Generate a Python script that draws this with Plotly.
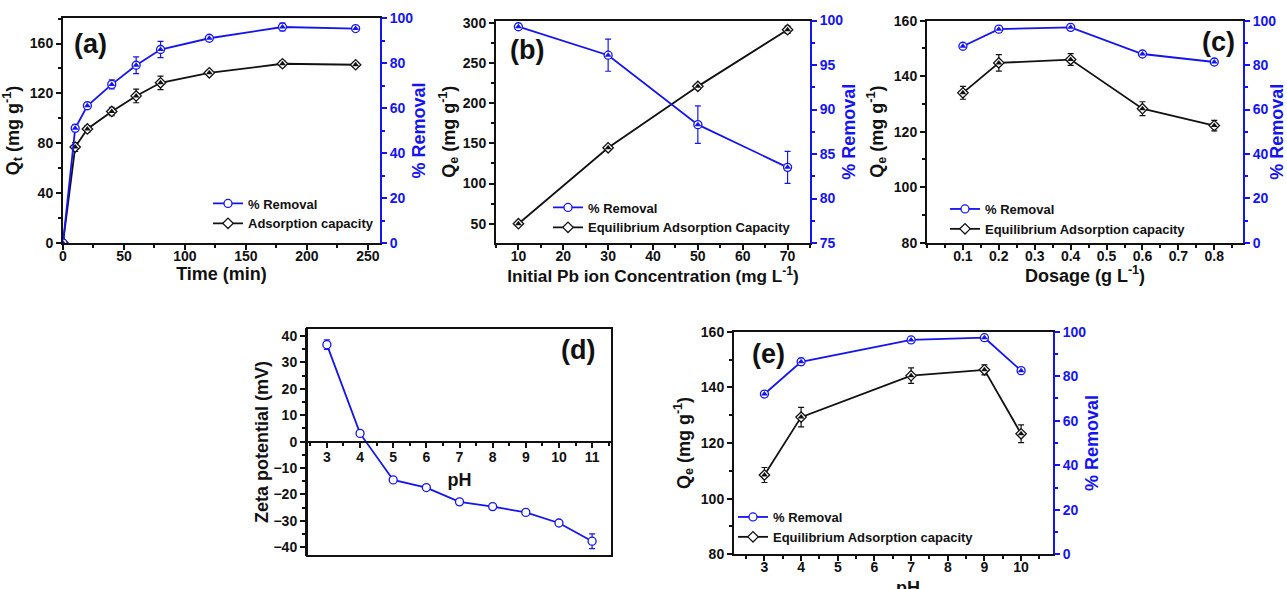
import plotly.graph_objects as go

W, H = 1287, 589
FONT = "Liberation Sans"
BLUE = "#1414f0"
BLACK = "#111111"

# ---------------- data ----------------
# (a) contact time
a_time = [0, 10, 20, 40, 60, 80, 120, 180, 240]
a_qt = [0, 77, 91.5, 105.5, 118, 128.5, 136.5, 143.8, 143]
a_qt_err = [0, 3.6, 2.5, 3.4, 5.5, 5.4, 2.0, 2.4, 2.0]
a_rem = [0, 51, 61, 70.5, 79, 86, 91, 96, 95.3]
a_rem_err = [0, 1.5, 1.2, 2.0, 3.7, 3.6, 1.0, 1.7, 1.3]

# (b) initial concentration
b_conc = [10, 30, 50, 70]
b_qe = [50, 144.5, 221, 291.5]
b_qe_err = [1, 2.5, 3.5, 4.5]
b_rem = [99.3, 96.1, 88.3, 83.5]
b_rem_err = [0, 1.8, 2.1, 1.8]

# (c) dosage
c_dose = [0.1, 0.2, 0.4, 0.6, 0.8]
c_qe = [134, 144.8, 146, 128.3, 122.2]
c_qe_err = [2.3, 3.0, 2.1, 2.5, 1.9]
c_rem = [88.5, 96.2, 97, 85, 81.4]
c_rem_err = [1.0, 1.2, 0.8, 1.0, 0.8]

# (d) zeta potential
d_ph = [3, 4, 5, 6, 7, 8, 9, 10, 11]
d_zeta = [36.7, 3.1, -14.5, -17.4, -22.8, -24.6, -26.8, -30.8, -37.7]
d_zeta_err = [1.8, 0.6, 0.6, 0.8, 0.6, 0.6, 0.6, 0.8, 2.8]

# (e) pH
e_ph = [3, 4, 7, 9, 10]
e_qe = [108.5, 129.3, 144.2, 146.3, 123.3]
e_qe_err = [2.7, 3.5, 2.8, 1.8, 3.2]
e_rem = [72, 86.5, 96.3, 97.3, 82.5]
e_rem_err = [1.2, 1.5, 1.3, 1.3, 1.3]

# ---------------- helpers ----------------
def px_x(x0, x1):
    return [x0 / W, x1 / W]

def px_y(y_top, y_bot):
    return [1 - y_bot / H, 1 - y_top / H]

tickfont = dict(family=FONT, size=14, color=BLACK, weight="bold")
tickfont_b = dict(family=FONT, size=14, color=BLUE, weight="bold")

def tfont(size=18, color=BLACK):
    return dict(family=FONT, size=size, color=color, weight="bold")

def xax(domain, rng, dtick, minor, title, anchor, tickvals=None, mirror=True,
        tsize=18, standoff=6, lab_off=-6, **kw):
    d = dict(domain=domain, range=rng, showline=True, linewidth=2, linecolor=BLACK,
             mirror=mirror, ticks="outside", ticklen=5, tickwidth=1.5, tickcolor=BLACK,
             minor=dict(ticks="outside", ticklen=3, tickwidth=1.5, dtick=minor, tickcolor=BLACK),
             dtick=dtick, tick0=0, showgrid=False, zeroline=False, tickfont=tickfont,
             ticklabelstandoff=lab_off,
             title=dict(text=title, font=tfont(tsize), standoff=standoff), anchor=anchor,
             automargin=False)
    if tickvals is not None:
        d["tickmode"] = "array"
        d["tickvals"] = tickvals
    d.update(kw)
    return d

def yax(domain, rng, dtick, minor, title, anchor, color=BLACK, side="left",
        overlaying=None, standoff=6, **kw):
    d = dict(range=rng, showline=True, linewidth=2, linecolor=color,
             ticks="outside", ticklen=5, tickwidth=1.5, tickcolor=color,
             minor=dict(ticks="outside", ticklen=3, tickwidth=1.5, dtick=minor, tickcolor=color),
             dtick=dtick, tick0=0, showgrid=False, zeroline=False,
             tickfont=tickfont if color == BLACK else tickfont_b,
             title=dict(text=title, font=tfont(18, color), standoff=standoff),
             anchor=anchor, side=side, automargin=False)
    if overlaying:
        d["overlaying"] = overlaying
    else:
        d["domain"] = domain
    d.update(kw)
    return d

fig = go.Figure()

def series(xa, ya, x, y, err, color, symbol, name, legend, showlegend=True, overlay=True):
    fig.add_trace(go.Scatter(
        x=x, y=y, xaxis=xa, yaxis=ya, name=name, legend=legend, showlegend=showlegend,
        mode="lines+markers",
        line=dict(color=color, width=1.8),
        marker=dict(symbol=symbol, size=8, color="white", line=dict(color=color, width=1.3)),
        error_y=dict(type="data", array=err, visible=True, color=color, thickness=1.2, width=3),
    ))
    if overlay:
        fig.add_trace(go.Scatter(
            x=x, y=y, xaxis=xa, yaxis=ya, showlegend=False, legend=legend, mode="markers",
            marker=dict(symbol="triangle-up", size=6, color=color),
            hoverinfo="skip",
        ))

# (a)
series("x", "y2", a_time, a_rem, a_rem_err, BLUE, "circle", "% Removal", "legend")
series("x", "y", a_time, a_qt, a_qt_err, BLACK, "diamond", "Adsorption capacity", "legend")
# (b)
series("x2", "y4", b_conc, b_rem, b_rem_err, BLUE, "circle", "% Removal", "legend2")
series("x2", "y3", b_conc, b_qe, b_qe_err, BLACK, "diamond", "Equilibrium Adsorption Capacity", "legend2")
# (c)
series("x3", "y6", c_dose, c_rem, c_rem_err, BLUE, "circle", "% Removal", "legend3")
series("x3", "y5", c_dose, c_qe, c_qe_err, BLACK, "diamond", "Equilibrium Adsorption capacity", "legend3")
# (d)
series("x4", "y7", d_ph, d_zeta, d_zeta_err, BLUE, "circle", "Zeta potential", "legend4",
       showlegend=False, overlay=False)
# (e)
series("x5", "y9", e_ph, e_rem, e_rem_err, BLUE, "circle", "% Removal", "legend5")
series("x5", "y8", e_ph, e_qe, e_qe_err, BLACK, "diamond", "Equilibrium Adsorption capacity", "legend5")

# domains (pixel boxes)
dA = (px_x(63, 380), px_y(18, 243))
dB = (px_x(496, 810), px_y(20.5, 243))
dC = (px_x(927, 1243), px_y(20.7, 242.7))
dD = (px_x(307, 612), px_y(328, 556))
dE = (px_x(734, 1053), px_y(331.7, 554.3))

d_rng = [-43.3, 43]
zero_pos = dD[1][0] + (0 - d_rng[0]) / (d_rng[1] - d_rng[0]) * (dD[1][1] - dD[1][0])

fig.update_layout(
    width=W, height=H, margin=dict(l=0, r=0, t=0, b=0, autoexpand=False),
    paper_bgcolor="white", plot_bgcolor="white", showlegend=True,
    font=dict(family=FONT, color=BLACK),
    xaxis=xax(dA[0], [0, 260], 50, 25, "Time (min)", "y", standoff=0),
    yaxis=yax(dA[1], [0, 180.5], 40, 20, "Q<sub>t</sub> (mg g<sup>-1</sup>)", "x", standoff=8),
    yaxis2=yax(None, [0, 100], 20, 10, "% Removal", "x", color=BLUE, side="right",
               overlaying="y", standoff=0),
    xaxis2=xax(dB[0], [5, 75], 10, 5, "Initial Pb ion Concentration (mg L<sup>-1</sup>)", "y3",
               tsize=17.2),
    yaxis3=yax(dB[1], [26, 303], 50, 25, "Q<sub>e</sub> (mg g<sup>-1</sup>)", "x2", standoff=3),
    yaxis4=yax(None, [75, 100], 5, 2.5, "% Removal", "x2", color=BLUE, side="right",
               overlaying="y3", standoff=0),
    xaxis3=xax(dC[0], [0, 0.88], 0.1, 0.05, "Dosage (g L<sup>-1</sup>)", "y5",
               tickvals=[0.1, 0.2, 0.3, 0.4, 0.5, 0.6, 0.7, 0.8], standoff=2),
    yaxis5=yax(dC[1], [80, 160], 20, 10, "Q<sub>e</sub> (mg g<sup>-1</sup>)", "x3"),
    yaxis6=yax(None, [0, 100], 20, 10, "% Removal", "x3", color=BLUE, side="right",
               overlaying="y5", standoff=0),
    xaxis4=xax(dD[0], [2.4, 11.6], 1, 0.5, "pH", "free", mirror=False, position=zero_pos,
               standoff=8, lab_off=-2),
    yaxis7=yax(dD[1], d_rng, 10, 5, "Zeta potential (mV)", "x4", standoff=0),
    xaxis5=xax(dE[0], [2.17, 10.87], 1, 0.5, "", "y8"),
    yaxis8=yax(dE[1], [80, 160], 20, 10, "Q<sub>e</sub> (mg g<sup>-1</sup>)", "x5"),
    yaxis9=yax(None, [0, 100], 20, 10, "% Removal", "x5", color=BLUE, side="right",
               overlaying="y8", standoff=0),
)

legfont = dict(family=FONT, size=13, color=BLACK, weight="bold")
def leg(xpx, ypx):
    return dict(x=xpx / W, y=1 - ypx / H, xanchor="left", yanchor="middle",
                bgcolor="rgba(0,0,0,0)", font=legfont, tracegroupgap=0, itemwidth=30,
                visible=True)

fig.update_layout(
    legend=leg(208, 213.5),
    legend2=leg(548, 217.5),
    legend3=leg(945, 219),
    legend5=leg(733, 527),
)

# box around zeta panel
fig.add_shape(type="rect", xref="x4 domain", yref="y7 domain", x0=0, x1=1, y0=0, y1=1,
              line=dict(color=BLACK, width=2), layer="above")

# x title of panel (e), partly cut by the lower page edge as in the reference
fig.add_annotation(text="pH", x=908 / W, y=1 - 576 / H, xref="paper", yref="paper",
                   showarrow=False, xanchor="center", yanchor="top",
                   font=tfont(18))

# panel labels
for txt, xp, yp in [("(a)", 90, 44), ("(b)", 527, 50), ("(c)", 1218, 42),
                    ("(d)", 578, 350), ("(e)", 768, 354)]:
    fig.add_annotation(text=txt, x=xp / W, y=1 - yp / H, xref="paper", yref="paper",
                       showarrow=False, xanchor="center", yanchor="middle",
                       font=dict(family=FONT, size=27, color=BLACK, weight="bold"))

fig.write_html("out.html")
